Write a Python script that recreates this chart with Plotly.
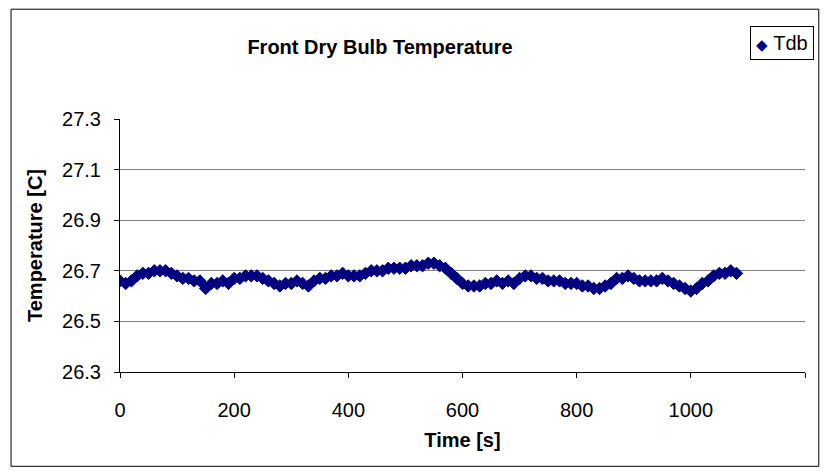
import plotly.graph_objects as go

# Sample times [s] (logged every 10 s) and front dry-bulb temperature [C]
time_s = list(range(0, 1090, 10))
tdb = [
    26.66, 26.65, 26.66, 26.68, 26.69, 26.69, 26.70, 26.70, 26.70, 26.69,
    26.68, 26.67, 26.67, 26.66, 26.66, 26.63, 26.65, 26.65, 26.66, 26.65,
    26.67, 26.67, 26.68, 26.68, 26.68, 26.67, 26.66, 26.65, 26.64, 26.65,
    26.65, 26.66, 26.65, 26.64, 26.66, 26.67, 26.67, 26.68, 26.68, 26.69,
    26.68, 26.68, 26.68, 26.69, 26.70, 26.70, 26.70, 26.71, 26.71, 26.71,
    26.71, 26.72, 26.72, 26.72, 26.73, 26.73, 26.72, 26.71, 26.69, 26.67,
    26.65, 26.64, 26.64, 26.64, 26.65, 26.65, 26.66, 26.65, 26.66, 26.65,
    26.67, 26.68, 26.68, 26.67, 26.67, 26.66, 26.66, 26.66, 26.65, 26.65,
    26.65, 26.64, 26.64, 26.63, 26.63, 26.64, 26.65, 26.67, 26.67, 26.68,
    26.67, 26.66, 26.66, 26.66, 26.66, 26.67, 26.66, 26.65, 26.64, 26.63,
    26.62, 26.63, 26.65, 26.66, 26.68, 26.69, 26.69, 26.70, 26.69,
]

x_ticks = [0, 200, 400, 600, 800, 1000, 1200]
y_ticks = [26.3, 26.5, 26.7, 26.9, 27.1, 27.3]

W, H = 827, 474
ML, MR, MT, MB = 119.5, 22.3, 118.5, 102  # plot-area margins in px
PW, PH = W - ML - MR, H - MT - MB

def px_x(px):
    return (px - ML) / PW

def px_y(py):
    return (H - MB - py) / PH

FONT = "Liberation Sans, Arial, sans-serif"
NAVY = "#000080"
FS = 20

fig = go.Figure()
fig.add_trace(go.Scatter(
    x=time_s, y=tdb, name="Tdb", mode="markers",
    marker=dict(symbol="diamond", size=9.5, color=NAVY,
                line=dict(width=1, color=NAVY)),
))

axis_common = dict(
    showline=True, linecolor="#000000", linewidth=1,
    ticks="outside", ticklen=5, tickcolor="#000000", tickwidth=1,
    tickfont=dict(family=FONT, size=FS, color="#000000"),
    zeroline=False,
)

fig.update_xaxes(
    range=[0, 1200], tickvals=x_ticks, showgrid=False,
    ticklabelstandoff=15,
    title=dict(text="<b>Time [s]</b>", font=dict(family=FONT, size=FS, color="#000"),
               standoff=12),
    **axis_common,
)
fig.update_yaxes(
    range=[26.3, 27.3], tickvals=y_ticks, tickformat=".1f",
    showgrid=True, gridcolor="#808080", gridwidth=1,
    ticklabelstandoff=9,
    title=dict(text="<b>Temperature [C]</b>", font=dict(family=FONT, size=FS, color="#000"),
               standoff=14),
    **axis_common,
)

fig.update_layout(
    width=W, height=H,
    margin=dict(l=ML, r=MR, t=MT, b=MB, autoexpand=False),
    paper_bgcolor="white", plot_bgcolor="white",
    font=dict(family=FONT, color="#000000"),
    title=dict(text="<b>Front Dry Bulb Temperature</b>",
               font=dict(family=FONT, size=FS, color="#000"),
               x=380 / W, xanchor="center", y=1 - 47 / H, yanchor="middle"),
    showlegend=False,
)

# Legend box for the single series
fig.add_annotation(
    xref="paper", yref="paper", x=px_x(782), y=px_y(42),
    xanchor="center", yanchor="middle",
    text=f"<span style='color:{NAVY};font-size:15px'>◆</span> Tdb",
    showarrow=False, font=dict(family=FONT, size=FS, color="#000"),
    bordercolor="#000000", borderwidth=1, borderpad=5, bgcolor="white",
)

# Chart-area frame
fig.add_shape(type="rect", xref="paper", yref="paper",
              x0=px_x(10.5), x1=px_x(818.5), y0=px_y(466.5), y1=px_y(8.5),
              line=dict(color="#000000", width=1), fillcolor="rgba(0,0,0,0)",
              layer="below")

fig.write_html("out.html")
